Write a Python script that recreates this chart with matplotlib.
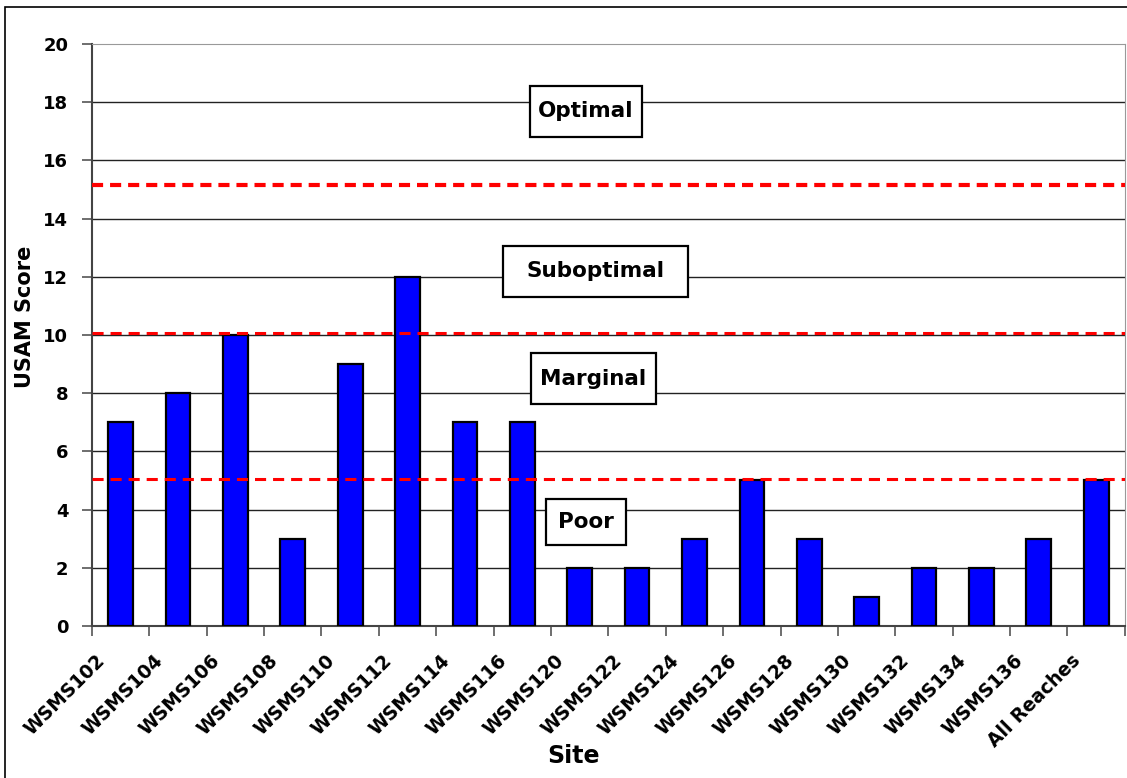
import numpy as np
import matplotlib.pyplot as plt
import matplotlib.transforms as mtrans
from matplotlib.patches import Rectangle
from matplotlib.path import Path

plt.rcParams['font.family'] = ['DejaVu Sans']
plt.rcParams['font.weight'] = 'bold'

sites  = ['WSMS102', 'WSMS104', 'WSMS106', 'WSMS108', 'WSMS110', 'WSMS112',
          'WSMS114', 'WSMS116', 'WSMS120', 'WSMS122', 'WSMS124', 'WSMS126',
          'WSMS128', 'WSMS130', 'WSMS132', 'WSMS134', 'WSMS136', 'All Reaches']
scores = [7, 8, 10, 3, 9, 12, 7, 7, 2, 2, 3, 5, 3, 1, 2, 2, 3, 5]

limits     = [15.15, 10.07, 5.05]
limitWidth = [3.0, 2.2, 2.2]

classNames = ['Optimal', 'Suboptimal', 'Marginal', 'Poor']
classY     = [17.69, 12.19, 8.50, 3.56]
classX     = [8.11, 8.28, 8.24, 8.11]
classPadX  = [0.40, 1.10, 0.45, 0.55]
classPadY  = [0.72, 0.72, 0.72, 0.60]

def makeBox(padX, padY):
  def box(x0, y0, width, height, mutation_size):
    px = padX * mutation_size
    py = padY * mutation_size
    xa, xb = x0 - px, x0 + width + px
    ya, yb = y0 - py, y0 + height + py
    return Path([(xa, ya), (xb, ya), (xb, yb), (xa, yb), (xa, ya)], closed=True)
  return box

fig = plt.figure(figsize=(11.27, 7.78), dpi=100)
ax  = fig.add_axes([0.0816, 0.1954, 0.9165, 0.748])

x = np.arange(len(sites))
ax.bar(x, scores, width=0.43, color='#0000ff', edgecolor='black', linewidth=1.6, zorder=3)

# grid and class limits
for yy in range(2, 20, 2):
  ax.axhline(yy, color='#222222', linewidth=1.0, zorder=1)

for lim, lw in zip(limits, limitWidth):
  ax.axhline(lim, color='red', linewidth=lw, linestyle=(0, (8.0 / lw, 5.0 / lw)), zorder=4)

for name, cx, cy, px, py in zip(classNames, classX, classY, classPadX, classPadY):
  ax.text(cx, cy, name, fontsize=15.5, fontweight='bold', ha='center', va='center', zorder=5,
          bbox=dict(boxstyle=makeBox(px, py), facecolor='white', edgecolor='black', linewidth=1.6))

ax.set_xlim(-0.5, len(sites) - 0.5)
ax.set_ylim(0, 20)
ax.set_yticks(range(0, 21, 2))
ax.tick_params(axis='y', labelsize=13, length=7, width=1.2, color='#555555', pad=10)

ax.set_xticks(x)
ax.set_xticks(np.arange(-0.5, len(sites), 1.0), minor=True)
ax.tick_params(axis='x', which='major', length=0, pad=18)
ax.tick_params(axis='x', which='minor', length=7, width=1.2, color='#555555')
ax.set_xticklabels(sites, fontsize=13.5, fontweight='bold', rotation=45, ha='right', va='top', rotation_mode='anchor')
shift = mtrans.ScaledTranslation(-0.25, 0, fig.dpi_scale_trans)
for lbl in ax.get_xticklabels():
  lbl.set_transform(lbl.get_transform() + shift)

ax.spines['left'].set_color('#444444')
ax.spines['bottom'].set_color('#444444')
ax.spines['left'].set_linewidth(1.5)
ax.spines['bottom'].set_linewidth(1.5)
ax.spines['top'].set_color('#999999')
ax.spines['right'].set_color('#999999')

ax.set_ylabel('USAM Score', fontsize=15, fontweight='bold', va='center')
ax.yaxis.set_label_coords(-0.065, 0.531)
ax.set_xlabel('Site', fontsize=17, fontweight='bold', va='center')
ax.xaxis.set_label_coords(0.466, -0.223)

fig.add_artist(Rectangle((0.0044, -0.1), 2.0, 1.091, transform=fig.transFigure,
                         fill=False, edgecolor='black', linewidth=1.2))

fig.savefig('out.png', dpi=100)
